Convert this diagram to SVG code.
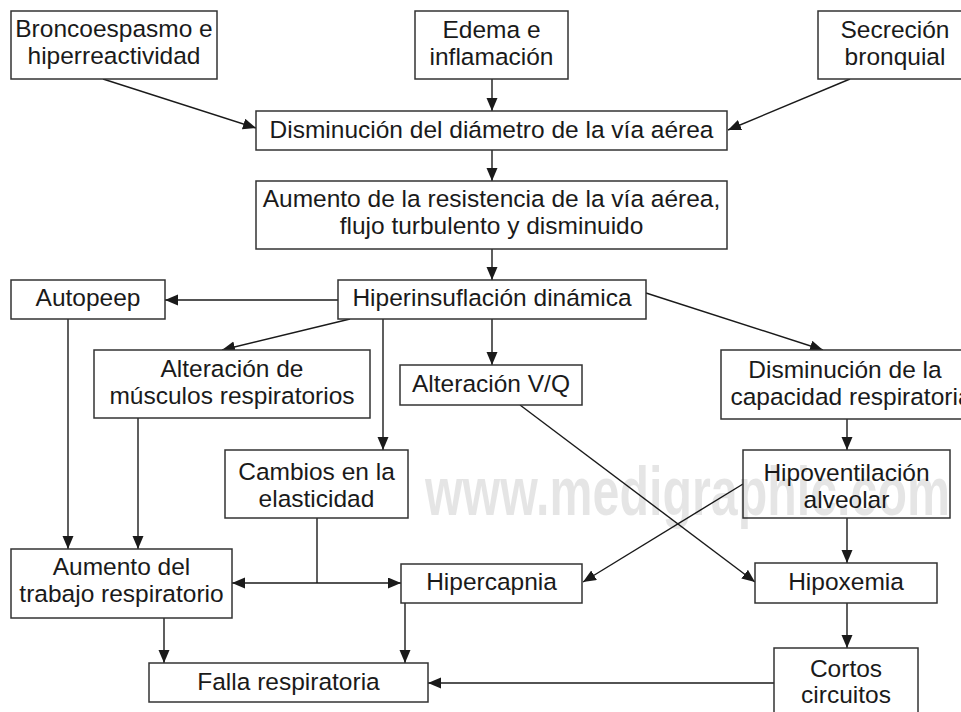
<svg xmlns="http://www.w3.org/2000/svg" width="961" height="712" viewBox="0 0 961 712">
<defs>
<marker id="ah" markerUnits="userSpaceOnUse" markerWidth="14" markerHeight="12" refX="13" refY="5.5" orient="auto">
<path d="M0,0 L13,5.5 L0,11 z" fill="#1a1a1a"/>
</marker>
<style>
.box{fill:#fff;stroke:#333;stroke-width:1.5}
.t{font-family:"Liberation Sans",Arial,sans-serif;font-size:24.5px;fill:#1a1a1a;text-anchor:middle}
.c{fill:none;stroke:#1a1a1a;stroke-width:1.4}
.a{marker-end:url(#ah)}
.wm{font-family:"Liberation Sans",Arial,sans-serif;font-weight:bold;font-size:68px;fill:#000;fill-opacity:0.1}
</style>
</defs>
<rect width="961" height="712" fill="#fff"/>
<g id="connectors">
<line class="c a" x1="103" y1="79" x2="256" y2="128"/>
<line class="c a" x1="492" y1="79" x2="492" y2="111"/>
<line class="c a" x1="850" y1="79" x2="728" y2="130"/>
<line class="c a" x1="492" y1="150" x2="492" y2="181"/>
<line class="c a" x1="492" y1="249" x2="492" y2="280"/>
<line class="c a" x1="338" y1="300" x2="165" y2="300"/>
<line class="c a" x1="350" y1="319" x2="222" y2="350"/>
<line class="c a" x1="383" y1="319" x2="383" y2="450"/>
<line class="c a" x1="492" y1="319" x2="492" y2="365"/>
<line class="c a" x1="646" y1="293" x2="823" y2="350"/>
<line class="c a" x1="847" y1="419" x2="847" y2="450"/>
<line class="c a" x1="520" y1="405" x2="755" y2="582"/>
<line class="c a" x1="743" y1="484" x2="583" y2="582"/>
<line class="c a" x1="847" y1="518" x2="847" y2="563"/>
<line class="c a" x1="847" y1="603" x2="847" y2="648"/>
<line class="c a" x1="774" y1="683" x2="428" y2="683"/>
<line class="c a" x1="68" y1="319" x2="68" y2="549"/>
<line class="c a" x1="138" y1="418" x2="138" y2="549"/>
<line class="c" x1="317" y1="518" x2="317" y2="583"/>
<line class="c a" x1="317" y1="583" x2="232" y2="583"/>
<line class="c a" x1="317" y1="583" x2="401" y2="583"/>
<line class="c a" x1="164" y1="618" x2="164" y2="663"/>
<line class="c a" x1="405" y1="603" x2="405" y2="663"/>
</g>
<g id="n-bronco"><rect class="box" x="11" y="11" width="206" height="68"/><text class="t" x="114" y="37">Broncoespasmo e</text><text class="t" x="114" y="64">hiperreactividad</text></g>
<g id="n-edema"><rect class="box" x="415" y="11" width="153" height="68"/><text class="t" x="491.5" y="38">Edema e</text><text class="t" x="491.5" y="65">inflamación</text></g>
<g id="n-secrecion"><rect class="box" x="818" y="11" width="160" height="68"/><text class="t" x="895" y="38">Secreción</text><text class="t" x="895" y="65">bronquial</text></g>
<g id="n-diametro"><rect class="box" x="256" y="111" width="471" height="39"/><text class="t" x="491.5" y="138">Disminución del diámetro de la vía aérea</text></g>
<g id="n-resistencia"><rect class="box" x="256" y="181" width="471" height="68"/><text class="t" x="491.5" y="207">Aumento de la resistencia de la vía aérea,</text><text class="t" x="491.5" y="234">flujo turbulento y disminuido</text></g>
<g id="n-hiper"><rect class="box" x="338" y="280" width="308" height="39"/><text class="t" x="492" y="306">Hiperinsuflación dinámica</text></g>
<g id="n-autopeep"><rect class="box" x="11" y="280" width="154" height="39"/><text class="t" x="88" y="306">Autopeep</text></g>
<g id="n-musculos"><rect class="box" x="94" y="350" width="276" height="68"/><text class="t" x="232" y="377">Alteración de</text><text class="t" x="232" y="404">músculos respiratorios</text></g>
<g id="n-vq"><rect class="box" x="400" y="365" width="182" height="40"/><text class="t" x="491" y="392">Alteración V/Q</text></g>
<g id="n-capacidad"><rect class="box" x="721" y="350" width="260" height="69"/><text class="t" x="845" y="378">Disminución de la</text><text class="t" x="851" y="405">capacidad respiratoria</text></g>
<g id="n-cambios"><rect class="box" x="225" y="450" width="183" height="68"/><text class="t" x="316.5" y="480">Cambios en la</text><text class="t" x="316.5" y="507">elasticidad</text></g>
<g id="n-hipovent"><rect class="box" x="743" y="450" width="207" height="68"/><text class="t" x="846.5" y="481">Hipoventilación</text><text class="t" x="846.5" y="508">alveolar</text></g>
<g id="n-trabajo"><rect class="box" x="11" y="549" width="221" height="69"/><text class="t" x="121.5" y="575">Aumento del</text><text class="t" x="121.5" y="602">trabajo respiratorio</text></g>
<g id="n-hipercapnia"><rect class="box" x="401" y="564" width="181" height="39"/><text class="t" x="491.5" y="590">Hipercapnia</text></g>
<g id="n-hipoxemia"><rect class="box" x="755" y="563" width="182" height="40"/><text class="t" x="846" y="590">Hipoxemia</text></g>
<g id="n-falla"><rect class="box" x="149" y="663" width="279" height="39"/><text class="t" x="288.5" y="690">Falla respiratoria</text></g>
<g id="n-cortos"><rect class="box" x="774" y="648" width="144" height="75"/><text class="t" x="846" y="677">Cortos</text><text class="t" x="846" y="703">circuitos</text></g>
<text class="wm" x="425" y="515" textLength="525" lengthAdjust="spacingAndGlyphs">www.medigraphic.com</text>
</svg>
